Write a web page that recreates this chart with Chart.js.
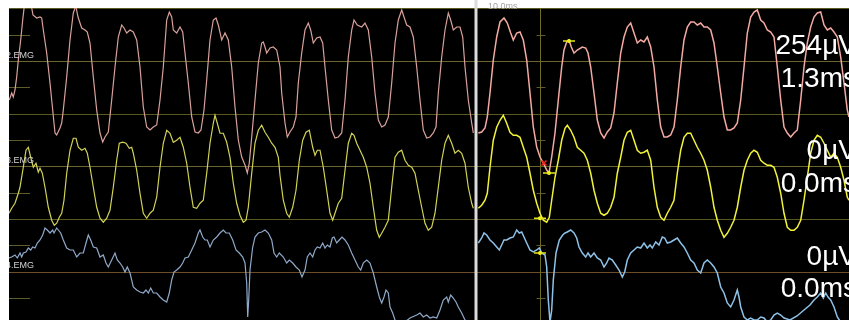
<!DOCTYPE html>
<html><head><meta charset="utf-8">
<script src="https://cdn.jsdelivr.net/npm/chart.js@4/dist/chart.umd.min.js"></script>
<style>html,body{margin:0;padding:0;background:#fff;overflow:hidden}</style>
</head><body>
<canvas id="c" width="849" height="320"></canvas>
<script>
// ---- labels ----
const channelNames = ['2.EMG', '3.EMG', '4.EMG'];
const ampLabels = ['254µV', '0µV', '0µV'];
const latLabels = ['1.3ms', '0.0ms', '0.0ms'];
const topLabel = '10.0ms';

// ---- time axis (ms) ----
const timeMin = 0, timeMax = 84;
const splitTime = 46.7;     // boundary between the two sweeps
const cursorTime = 53.1;    // vertical cursor in the right sweep

// ---- amplitude (µV) ----
const divUV = 52.6;                       // µV per division
const channelOffsets = [0, -210.5, -421]; // display offset of each channel baseline
const yMin = -518, yMax = 106;

// ---- channel 2 (pink) ----
const ch2LeftT = [0.03,0.27,0.43,0.6,0.77,0.93,1.17,1.37,1.53,1.8,2.1,2.27,2.4,2.77,3.1,3.27,3.43,3.77,4.1,4.4,4.6,4.77,5.1,5.27,5.43,5.77,6.1,6.43,6.6,6.7,6.9,7.27,7.6,7.83,8.1,8.43,8.77,9.1,9.37,9.6,9.93,10.27,10.6,10.93,11.27,11.5,11.77,12.1,12.43,12.77,13.1,13.43,13.77,14.1,14.43,14.77,15.1,15.43,15.77,16.03,16.27,16.43,16.77,17.1,17.37,17.6,17.93,18.27,18.6,18.93,19.2,19.5,19.77,20.1,20.43,20.7,20.93,21.27,21.6,21.93,22.27,22.6,22.93,23.27,23.6,23.83,24.03,24.27,24.6,24.93,25.27,25.43,25.6,25.77,26.1,26.43,26.77,27.1,27.27,27.6,27.83,28.1,28.43,28.7,28.93,29.27,29.6,29.93,30.17,30.43,30.77,31.1,31.37,31.6,31.93,32.27,32.6,32.93,33.27,33.6,33.93,34.27,34.5,34.83,35.27,35.6,35.93,36.27,36.6,36.93,37.27,37.6,37.93,38.27,38.6,38.93,39.27,39.5,39.77,40.1,40.43,40.77,41.1,41.43,41.77,42.1,42.43,42.7,42.93,43.27,43.6,43.93,44.17,44.43,44.77,45.1,45.37,45.6,45.93,46.27,46.43];
const ch2LeftV = [-78,-64,-72,-58,-32,2,42,82,110,122,116,106,92,86,88,86,62,16,-44,-104,-144,-148,-134,-124,-98,-32,42,96,106,108,88,66,62,58,36,-32,-98,-144,-162,-152,-142,-78,-12,48,72,66,56,62,58,42,-12,-92,-132,-138,-132,-128,-78,-12,82,98,88,62,56,68,58,16,-44,-112,-142,-144,-138,-98,-38,42,82,86,72,42,56,42,-12,-92,-158,-192,-208,-224,-204,-152,-78,-4,36,38,28,16,26,28,22,-12,-64,-124,-152,-142,-132,-112,-44,16,62,76,62,36,46,48,36,-12,-78,-138,-154,-152,-144,-78,8,62,82,72,68,76,62,8,-64,-118,-132,-128,-112,-44,36,82,102,88,72,68,48,-12,-78,-138,-154,-152,-144,-132,-64,8,62,96,82,62,68,68,48,-12,-78,-124,-144];
const ch2RightT = [46.93,47.27,47.6,47.83,48.1,48.43,48.77,49.1,49.5,49.83,50.17,50.43,50.77,51.1,51.43,51.77,52.1,52.43,52.77,53.1,53.43,53.77,54.0,54.27,54.6,54.93,55.27,55.5,55.77,56.0,56.23,56.5,56.83,57.33,57.67,57.9,58.17,58.5,58.83,59.17,59.5,59.83,60.17,60.5,60.83,61.17,61.5,61.83,62.17,62.5,62.83,63.17,63.5,63.83,64.17,64.5,64.83,65.17,65.5,65.83,66.17,66.5,66.83,67.17,67.5,67.83,68.17,68.5,68.83,69.17,69.5,69.83,70.17,70.5,70.83,71.17,71.5,71.83,72.17,72.5,72.83,73.17,73.5,73.83,74.17,74.5,74.83,75.17,75.5,75.83,76.17,76.5,76.83,77.17,77.5,77.83,78.17,78.5,78.83,79.17,79.5,79.83,80.17,80.5,80.83,81.17,81.5,81.83,82.17,82.5,82.83,83.17,83.5,83.83,84.0];
const ch2RightV = [-144,-142,-134,-112,-64,2,48,78,86,76,56,42,56,58,42,2,-64,-132,-172,-192,-204,-218,-224,-192,-144,-78,-12,22,38,42,28,16,22,28,26,16,-12,-64,-118,-144,-154,-142,-134,-104,-44,16,48,68,76,56,36,42,38,48,28,-12,-78,-132,-152,-152,-148,-132,-78,-12,42,68,78,78,72,76,68,68,62,36,-12,-64,-112,-138,-138,-134,-124,-78,-12,56,88,98,102,82,76,62,58,48,-12,-78,-132,-144,-152,-144,-138,-78,-12,36,68,88,96,98,72,62,66,58,48,8,-44,-98,-112];

// ---- channel 3 (yellow) ----
const ch3LeftT = [0,0.27,0.6,0.93,1.1,1.43,1.7,1.93,2.17,2.43,2.7,2.93,3.1,3.33,3.6,3.93,4.27,4.53,4.77,5.03,5.27,5.5,5.77,6.1,6.43,6.7,6.93,7.27,7.6,7.83,8.1,8.43,8.77,9.1,9.43,9.77,10.1,10.43,10.77,11.03,11.37,11.7,12.03,12.27,12.43,12.77,13.1,13.43,13.77,14.1,14.43,14.77,15.1,15.43,15.77,16.1,16.43,16.77,17.1,17.43,17.77,18.1,18.43,18.77,19.1,19.43,19.77,20.1,20.43,20.6,20.83,21.1,21.43,21.77,22.1,22.43,22.77,23.1,23.43,23.7,23.93,24.27,24.6,24.93,25.27,25.6,25.93,26.27,26.6,26.93,27.1,27.43,27.77,28.03,28.37,28.7,29.03,29.37,29.7,30.03,30.37,30.6,30.83,31.1,31.43,31.77,32.1,32.37,32.6,32.93,33.27,33.6,33.93,34.27,34.5,34.77,35.1,35.43,35.77,36.1,36.43,36.77,37.03,37.27,37.6,37.93,38.27,38.6,38.93,39.27,39.6,39.93,40.27,40.6,40.93,41.27,41.6,41.93,42.27,42.6,42.93,43.27,43.6,43.93,44.27,44.6,44.93,45.27,45.6,45.93,46.27,46.43];
const ch3LeftV = [-94,-84,-74,-54,-42,-2,32,38,18,-2,6,-12,-4,-14,-42,-82,-108,-118,-114,-102,-94,-68,-14,32,56,56,38,32,36,26,-2,-42,-82,-104,-112,-104,-88,-42,12,46,48,46,36,38,26,-8,-54,-94,-104,-94,-88,-62,-2,46,72,66,48,52,58,38,6,-42,-82,-84,-74,-68,-14,46,86,102,86,66,66,48,18,-34,-74,-98,-112,-108,-82,-14,46,72,82,68,58,46,38,18,-18,-68,-94,-102,-82,-48,12,52,68,72,38,22,32,32,-2,-48,-94,-108,-94,-74,-64,-8,46,66,62,46,32,18,-2,-34,-82,-128,-142,-134,-122,-108,-42,18,28,32,12,2,-2,-14,-48,-82,-114,-128,-122,-94,-42,12,46,62,46,26,32,26,6,-42,-74,-84];
const ch3RightT = [46.93,47.27,47.6,47.83,48.1,48.43,48.77,49.1,49.43,49.77,50.1,50.43,50.77,51.1,51.43,51.77,52.1,52.43,52.77,53.1,53.43,53.77,54.03,54.27,54.6,54.93,55.27,55.6,55.83,56.17,56.5,56.83,57.17,57.5,57.83,58.17,58.5,58.83,59.17,59.5,59.83,60.17,60.5,60.83,61.17,61.5,61.83,62.17,62.5,62.83,63.17,63.5,63.83,64.17,64.5,64.83,65.17,65.5,65.83,66.17,66.5,66.83,67.17,67.5,67.83,68.17,68.5,68.83,69.17,69.5,69.83,70.17,70.5,70.83,71.17,71.5,71.83,72.17,72.5,72.83,73.17,73.5,73.83,74.17,74.5,74.83,75.17,75.5,75.83,76.17,76.5,76.83,77.17,77.5,77.83,78.17,78.5,78.83,79.17,79.5,79.83,80.17,80.5,80.83,81.17,81.5,81.83,82.17,82.5,82.83,83.17,83.5,83.83,84.0];
const ch3RightV = [-84,-78,-68,-54,-2,52,78,92,102,86,68,62,62,58,38,18,-14,-48,-74,-94,-108,-112,-102,-68,-22,12,52,76,82,72,58,38,32,26,12,-14,-48,-74,-94,-98,-94,-82,-62,-14,18,52,68,72,52,32,26,28,32,12,-42,-82,-102,-108,-94,-82,-68,-14,32,58,66,66,52,38,26,12,-8,-42,-82,-108,-128,-142,-134,-122,-108,-82,-42,-8,12,26,32,28,12,6,2,2,-2,-22,-54,-94,-122,-128,-128,-122,-108,-68,-22,26,52,62,58,46,32,18,26,18,-2,-28,-62,-68];

// ---- channel 4 (blue) ----
const ch4LeftT = [0,0.27,0.6,0.83,1.1,1.27,1.43,1.7,1.93,2.17,2.37,2.6,2.83,3.1,3.37,3.6,3.83,4.1,4.37,4.5,4.77,4.93,5.17,5.43,5.77,6.1,6.43,6.77,7.1,7.43,7.7,7.93,8.17,8.43,8.77,9.1,9.43,9.7,9.93,10.27,10.6,10.83,11.1,11.37,11.6,11.83,12.1,12.43,12.77,13.1,13.43,13.7,13.93,14.17,14.43,14.77,15.1,15.43,15.77,16.03,16.27,16.5,16.77,17.1,17.37,17.6,17.93,18.27,18.6,18.93,19.1,19.37,19.6,19.83,20.1,20.43,20.77,21.1,21.43,21.7,22.03,22.37,22.7,23.03,23.37,23.6,23.77,23.87,23.97,24.1,24.37,24.6,24.93,25.27,25.6,25.93,26.27,26.5,26.77,27.03,27.43,27.77,28.03,28.37,28.7,29.03,29.3,29.6,29.83,30.1,30.37,30.6,30.83,31.1,31.37,31.6,31.83,32.1,32.33,32.5,32.77,33.03,33.3,33.6,33.93,34.27,34.6,34.93,35.17,35.43,35.77,36.1,36.43,36.77,37.03,37.27,37.5,37.7,37.93,38.1,38.37,38.6,39.1,39.6,40.1,40.77,41.1,41.43,41.77,42.1,42.43,42.77,43.1,43.43,43.77,43.93,44.17,44.43,44.7,44.93,45.27,45.6,46.1,46.43];
const ch4LeftV = [27,29,33,27,37,29,37,39,47,43,49,47,57,63,73,87,83,77,83,77,87,83,77,63,47,43,43,29,37,37,57,73,63,49,47,29,33,17,9,23,37,23,17,9,-1,9,-3,-31,-37,-41,-43,-37,-43,-33,-43,-43,-51,-57,-61,-43,-17,-1,3,9,17,27,29,43,57,77,83,69,63,63,49,63,69,77,83,77,77,63,43,37,29,17,-23,-91,-57,3,49,69,77,79,83,77,63,37,29,37,29,17,23,17,9,3,-11,3,29,37,29,43,49,47,57,47,53,49,67,69,57,63,69,63,53,37,23,9,3,17,23,17,-3,-31,-51,-63,-51,-37,-43,-71,-83,-97,-105,-101,-93,-87,-83,-91,-87,-93,-91,-93,-77,-57,-51,-61,-47,-53,-61,-71,-83,-97,-109,-117];
const ch4RightT = [46.93,47.27,47.5,47.77,48.1,48.43,48.77,49.03,49.27,49.5,49.77,50.1,50.43,50.77,51.03,51.27,51.5,51.77,52.1,52.43,52.77,53.03,53.27,53.6,53.77,53.93,54.1,54.27,54.43,54.7,55.03,55.37,55.6,55.83,56.17,56.5,56.77,57.0,57.33,57.67,57.9,58.17,58.5,58.83,59.17,59.5,59.77,60.0,60.33,60.67,61.0,61.33,61.57,61.83,62.17,62.5,62.83,63.17,63.5,63.83,64.1,64.33,64.67,65.0,65.33,65.57,65.83,66.17,66.5,66.83,67.17,67.5,67.83,68.17,68.5,68.83,69.17,69.5,69.83,70.17,70.5,70.83,71.17,71.5,71.83,72.17,72.5,72.83,73.0,73.17,73.5,73.83,74.17,74.5,74.83,75.17,75.5,75.83,76.17,76.5,76.83,77.17,77.5,78.1,78.8,79.5,80.1,80.5,80.83,81.17,81.43,81.67,81.9,82.17,82.5,82.83,83.17,84.0];
const ch4RightV = [57,67,77,73,63,57,49,43,53,63,63,67,69,83,77,79,69,57,43,39,43,47,37,33,9,-57,-101,-77,-17,37,63,73,77,79,83,77,67,49,37,29,37,29,37,27,23,9,17,27,23,13,3,-11,-1,23,37,43,49,47,57,47,53,47,59,53,69,67,57,59,63,67,57,49,37,23,17,3,-3,17,23,17,9,-3,-31,-43,-63,-71,-57,-37,-51,-71,-91,-97,-93,-97,-97,-91,-93,-101,-97,-87,-83,-87,-93,-97,-89,-77,-67,-57,-51,-43,-53,-43,-51,-57,-71,-91,-101,-117];

// ---- cursor markers (time ms, µV, channel index) ----
const markerT = [56.0, 54.0, 53.1, 53.1];
const markerV = [40, -224, -104, 37];
const markerCh = [0, 0, 1, 2];
const flagT = [53.5], flagV = [-204], flagCh = [0];

// ---- styling ----
const leftColors = ['#d9a19b', '#d2d256', '#8fa9c9'];
const rightColors = ['#f4aaa2', '#f2f23a', '#8ec2e8'];
const baseColors = ['#6b6530', '#6b6530', '#6e4d2a'];
const sepColor = '#5a591f';
const tickColor = '#5e5c28';
const cursorColor = '#6e6c22';

function pts(ts, vs, off) { return ts.map((t, i) => ({x: t, y: vs[i] + off})); }

const traces = [
  [ch2LeftT, ch2LeftV, ch2RightT, ch2RightV],
  [ch3LeftT, ch3LeftV, ch3RightT, ch3RightV],
  [ch4LeftT, ch4LeftV, ch4RightT, ch4RightV]
];
const datasets = [];
datasets.push({
  data: markerT.map((t, i) => ({x: t, y: markerV[i] + channelOffsets[markerCh[i]]})),
  showLine: false, pointStyle: 'line', pointRadius: 6, borderColor: '#e6e61c', borderWidth: 1.5, order: 0
});
datasets.push({
  data: markerT.map((t, i) => ({x: t, y: markerV[i] + channelOffsets[markerCh[i]]})),
  showLine: false, pointStyle: 'circle', pointRadius: 2, backgroundColor: '#ffff20', borderWidth: 0, order: 0
});
datasets.push({
  data: flagT.map((t, i) => ({x: t, y: flagV[i] + channelOffsets[flagCh[i]]})),
  showLine: false, pointStyle: 'crossRot', pointRadius: 3.5, borderColor: '#ff2020', borderWidth: 1.5, order: 0
});
traces.forEach((tr, c) => {
  datasets.push({data: pts(tr[0], tr[1], channelOffsets[c]), borderColor: leftColors[c], borderWidth: 1.2, pointRadius: 0, order: 1});
  datasets.push({data: pts(tr[2], tr[3], channelOffsets[c]), borderColor: rightColors[c], borderWidth: 1.5, pointRadius: 0, order: 1});
});

const scopePlugin = {
  id: 'scope',
  beforeDatasetsDraw(chart) {
    const {ctx, chartArea: a, scales: {x, y}} = chart;
    ctx.save();
    ctx.fillStyle = '#000000';
    ctx.fillRect(a.left, a.top, a.right - a.left, a.bottom - a.top);
    const hline = (v, x0, x1, color) => {
      const py = Math.round(y.getPixelForValue(v)) + 0.5;
      ctx.strokeStyle = color; ctx.lineWidth = 1;
      ctx.beginPath(); ctx.moveTo(x0, py); ctx.lineTo(x1, py); ctx.stroke();
    };
    const cx = Math.round(x.getPixelForValue(cursorTime)) + 0.5;
    channelOffsets.forEach((off, i) => {
      hline(off + 2 * divUV, a.left, a.right, sepColor);
      hline(off, a.left, a.right, baseColors[i]);
      [off + divUV, off - divUV].forEach(v => {
        hline(v, a.left, a.left + 21, tickColor);
        hline(v, cx - 4, cx + 5, tickColor);
      });
    });
    ctx.strokeStyle = cursorColor; ctx.lineWidth = 1;
    ctx.beginPath(); ctx.moveTo(cx, a.top); ctx.lineTo(cx, a.bottom); ctx.stroke();
    const dx = x.getPixelForValue(splitTime);
    ctx.fillStyle = '#dcdcdc';
    ctx.fillRect(dx - 1.5, 0, 3, chart.height);
    ctx.restore();
  },
  afterDatasetsDraw(chart) {
    const {ctx, chartArea: a, scales: {x, y}} = chart;
    ctx.save();
    // top label
    ctx.fillStyle = '#a4a4a4';
    ctx.font = '9px "Liberation Sans", Arial, sans-serif';
    ctx.textAlign = 'left'; ctx.textBaseline = 'alphabetic';
    ctx.fillText(topLabel, x.getPixelForValue(splitTime) + 12, 9);
    // channel names (clipped to plot)
    ctx.save();
    ctx.beginPath(); ctx.rect(a.left, a.top, a.right - a.left, a.bottom - a.top); ctx.clip();
    ctx.fillStyle = '#d2d2d2';
    ctx.font = '9px "Liberation Sans", Arial, sans-serif';
    ctx.textAlign = 'right';
    channelNames.forEach((n, i) => {
      ctx.fillText(n, a.left + 25, y.getPixelForValue(channelOffsets[i]) - 3.5);
    });
    ctx.restore();
    // measurement readouts
    ctx.fillStyle = '#ffffff';
    ctx.font = '28px "Liberation Sans", Arial, sans-serif';
    ctx.textAlign = 'right';
    channelOffsets.forEach((off, i) => {
      const py = y.getPixelForValue(off);
      ctx.fillText(ampLabels[i], 857, py - 7);
      ctx.fillText(latLabels[i], 857, py + 25.5);
    });
    ctx.restore();
  }
};

new Chart(document.getElementById('c'), {
  type: 'line',
  data: {datasets},
  options: {
    responsive: false,
    animation: false,
    events: [],
    parsing: true,
    layout: {autoPadding: false, padding: {left: 9, top: 8, right: 0, bottom: 0}},
    elements: {line: {tension: 0}},
    scales: {
      x: {type: 'linear', min: timeMin, max: timeMax, display: false},
      y: {type: 'linear', min: yMin, max: yMax, display: false}
    },
    plugins: {legend: {display: false}, tooltip: {enabled: false}}
  },
  plugins: [scopePlugin]
});
</script>
</body></html>
